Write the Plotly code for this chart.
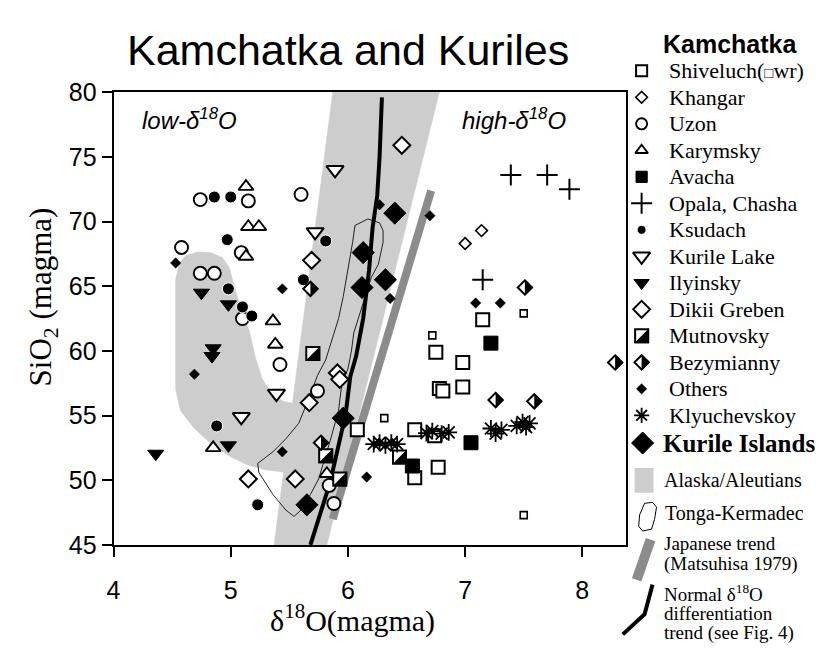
import plotly.graph_objects as go

W, H = 823, 649
PLOT_L, PLOT_R, PLOT_T, PLOT_B = 99.4, 616.5, 73.4, 546.5

X_RANGE = [4.0, 8.375]
Y_RANGE = [45.0, 80.0]
X_TICKS = [4, 5, 6, 7, 8]
Y_TICKS = [45, 50, 55, 60, 65, 70, 75, 80]

# ---------------- data ----------------
shiveluch_x = [7.15, 6.75, 6.98, 6.78, 6.81, 6.98, 6.08, 6.57, 6.74, 6.57, 6.77]
shiveluch_y = [62.4, 59.9, 59.1, 57.1, 56.9, 57.2, 53.9, 53.9, 53.45, 50.2, 51.0]
shiveluch_wr_x = [7.50, 6.72, 6.31, 7.50]
shiveluch_wr_y = [62.9, 61.2, 54.8, 47.3]
khangar_x = [7.00, 7.14]
khangar_y = [68.3, 69.3]
uzon_x = [4.74, 5.15, 5.60, 4.58, 5.09, 4.74, 4.86, 5.10, 5.42, 5.74, 5.84, 5.88]
uzon_y = [71.7, 71.6, 72.1, 68.0, 67.6, 66.0, 66.0, 62.5, 58.95, 56.9, 49.6, 48.2]
karymsky_x = [5.13, 5.15, 5.24, 5.13, 5.36, 5.38, 4.85, 5.82]
karymsky_y = [72.7, 69.6, 69.6, 67.3, 62.3, 60.5, 52.5, 50.5]
avacha_x = [7.22, 7.05, 6.55]
avacha_y = [60.6, 52.9, 51.1]
opala_x = [7.39, 7.70, 7.89, 7.15]
opala_y = [73.6, 73.6, 72.5, 65.5]
ksudach_x = [4.86, 5.00, 4.97, 4.98, 5.62, 5.81, 5.10, 5.18, 4.88, 5.23]
ksudach_y = [71.9, 71.9, 68.6, 64.8, 65.5, 68.5, 63.4, 62.7, 54.2, 48.1]
kurile_lake_x = [5.89, 5.72, 5.39, 5.09]
kurile_lake_y = [74.0, 69.2, 56.7, 54.9]
ilyinsky_x = [4.75, 4.98, 4.85, 4.84, 4.98, 4.36]
ilyinsky_y = [64.5, 63.6, 60.2, 59.6, 52.7, 52.05]
dikii_x = [5.69, 6.46, 5.91, 5.93, 5.67, 5.15, 5.55]
dikii_y = [67.0, 75.9, 58.3, 57.8, 56.0, 50.1, 50.1]
mutnovsky_x = [5.70, 5.81, 5.93, 6.44]
mutnovsky_y = [59.8, 51.9, 50.1, 51.8]
bezym_x = [5.68, 5.77, 7.26, 7.59, 8.28, 7.51]
bezym_y = [64.8, 52.9, 56.2, 56.1, 59.1, 64.9]
others_x = [4.53, 4.69, 5.44, 5.44, 6.27, 6.70, 6.36, 7.09, 7.30, 6.16]
others_y = [66.8, 58.2, 64.8, 52.2, 71.3, 70.45, 64.05, 63.7, 63.7, 50.25]
klyuch_x = [6.22, 6.27, 6.32, 6.37, 6.42, 6.67, 6.72, 6.80, 6.86,
            7.22, 7.26, 7.31, 7.44, 7.49, 7.55, 7.52]
klyuch_y = [52.8, 52.9, 52.7, 52.9, 52.8, 53.65, 53.8, 53.6, 53.7,
            54.0, 53.6, 53.9, 54.2, 54.5, 54.4, 54.1]
kurile_x = [6.40, 6.13, 6.12, 6.32, 5.96, 5.65]
kurile_y = [70.65, 67.6, 64.9, 65.5, 54.8, 48.1]

# fields / trends
wedge_x = [5.37, 5.82, 6.78, 5.87]
wedge_y = [45.0, 45.0, 80.0, 80.0]
hook_x = [4.72, 4.62, 4.56, 4.53, 4.53, 4.53, 4.57, 4.68, 4.82, 5.00, 5.15, 5.30, 5.48,
          5.56, 5.56, 5.45, 5.35, 5.27, 5.21, 5.16, 5.08, 5.02, 4.99, 4.93, 4.83]
hook_y = [67.65, 67.4, 66.8, 65.5, 60.0, 57.0, 55.4, 54.1, 52.9, 51.8, 51.15, 50.8, 50.6,
          52.0, 55.9, 56.1, 56.7, 57.8, 59.5, 61.5, 63.5, 65.3, 66.4, 67.2, 67.6]
tonga_x = [6.06, 6.17, 6.27, 6.30, 6.30, 6.26, 6.20, 6.12, 6.05, 6.03, 6.00, 5.95, 5.92,
           5.85, 5.79, 5.75, 5.68, 5.64, 5.60, 5.54, 5.47, 5.36, 5.24, 5.23, 5.36, 5.47,
           5.58, 5.67, 5.74, 5.81, 5.86, 5.92, 5.96, 6.00, 6.04]
tonga_y = [69.7, 70.2, 69.9, 69.3, 68.4, 66.7, 65.7, 63.5, 61.4, 60.0, 58.6, 57.6, 55.4,
           53.1, 51.4, 50.1, 48.9, 48.3, 47.7, 47.2, 47.7, 48.9, 50.6, 51.3, 52.2, 53.2,
           54.4, 56.4, 58.1, 59.3, 60.8, 62.5, 64.2, 66.2, 68.4]
japan_x = [5.87, 6.71]
japan_y = [47.0, 72.4]
normal_x = [5.68, 5.76, 5.85, 5.93, 5.98, 6.02, 6.07, 6.13, 6.18, 6.21, 6.25, 6.27, 6.29]
normal_y = [45.0, 47.2, 49.9, 53.1, 55.1, 58.0, 59.6, 62.5, 66.2, 69.5, 72.0, 75.0, 79.6]

# legend labels
legend_labels = ["Shiveluch(<span style='font-size:15px'><b>□</b></span>wr)", "Khangar", "Uzon",
                 "Karymsky", "Avacha", "Opala, Chasha", "Ksudach", "Kurile Lake", "Ilyinsky",
                 "Dikii Greben", "Mutnovsky", "Bezymianny", "Others", "Klyuchevskoy"]
japan_label_lines = ['Japanese trend', '(Matsuhisa 1979)']
normal_label_lines = ['Normal δ<sup>18</sup>O', 'differentiation', 'trend (see Fig. 4)']

# ---------------- styles ----------------
LIGHT = '#cdcdcd'
MID = '#8c8c8c'
SERIF = 'Liberation Serif, Times New Roman, serif'
SANS = 'Liberation Sans, Arial, sans-serif'

def st(symbol, size, fill='white', lc='black', lw=1.8):
    return dict(symbol=symbol, size=size, color=fill, line=dict(color=lc, width=lw))

S_SHIV = st('square', 13, lw=2)
S_WR = st('square', 7, lw=1.6)
S_KHAN = st('diamond', 9, lw=1.6)
S_UZON = st('circle', 13, lw=1.9)
S_KARY = st('triangle-up', 13, lw=1.9)
S_AVA = st('square', 14, fill='black', lw=1)
S_OPAL = st('cross-thin', 15, fill='black', lw=2)
S_KSU = st('circle', 12, fill='black', lc='white', lw=1)
S_KLAKE = st('triangle-down', 15, lw=2)
S_ILY = st('triangle-down', 14, fill='black', lw=1)
S_DIK = st('diamond', 13, lw=2)
S_MUT = st('square', 13, lw=2)
S_BEZ = st('diamond', 11, lw=2)
S_OTH = st('diamond', 8, fill='black', lw=0.5)
S_KLY = st('asterisk', 14, fill='black', lw=1.8)
S_KUR = st('diamond', 17, fill='black', lw=1)

MUT_PATH = 'M7.5,7.5 L7.5,-7.5 L-7.5,-7.5 Z'
BEZ_PATH = 'M0,8.2 L8.2,0 L0,-8.2 Z'

fig = go.Figure()
shapes = []
annotations = []

def add_region(xs, ys, color):
    fig.add_trace(go.Scatter(x=xs + [xs[0]], y=ys + [ys[0]], mode='lines', fill='toself',
                             fillcolor=color, line=dict(color=color, width=0.5),
                             hoverinfo='skip', showlegend=False))

def add_pts(xs, ys, s, xa='x', ya='y'):
    fig.add_trace(go.Scatter(x=xs, y=ys, mode='markers', marker=s, xaxis=xa, yaxis=ya,
                             hoverinfo='skip', showlegend=False, cliponaxis=False))

def add_half(xs, ys, path, xref='x', yref='y'):
    for x, y in zip(xs, ys):
        shapes.append(dict(type='path', xref=xref, yref=yref, xsizemode='pixel',
                           ysizemode='pixel', xanchor=x, yanchor=y, path=path,
                           fillcolor='black', line=dict(width=0), layer='above'))

def text(x, y, t, size, family=SERIF, anchor='left', angle=0):
    annotations.append(dict(x=x, y=y, xref='x2', yref='y2', text=t, showarrow=False,
                            xanchor=anchor, yanchor='middle', textangle=angle,
                            font=dict(family=family, size=size, color='black')))

# fields
add_region(wedge_x, wedge_y, LIGHT)
add_region(hook_x, hook_y, LIGHT)
# the grey field covers the top frame line
shapes.append(dict(type='line', xref='x', yref='y', x0=wedge_x[3], x1=wedge_x[2],
                   y0=wedge_y[3], y1=wedge_y[2], line=dict(color=LIGHT, width=3), layer='above'))
fig.add_trace(go.Scatter(x=japan_x, y=japan_y, mode='lines', line=dict(color=MID, width=8),
                         hoverinfo='skip', showlegend=False))
fig.add_trace(go.Scatter(x=tonga_x + [tonga_x[0]], y=tonga_y + [tonga_y[0]], mode='lines',
                         line=dict(color='#222222', width=1), hoverinfo='skip', showlegend=False))
fig.add_trace(go.Scatter(x=normal_x, y=normal_y, mode='lines', line=dict(color='black', width=4),
                         hoverinfo='skip', showlegend=False))

# data points
add_pts(others_x, others_y, S_OTH)
add_pts(shiveluch_x, shiveluch_y, S_SHIV)
add_pts(shiveluch_wr_x, shiveluch_wr_y, S_WR)
add_pts(khangar_x, khangar_y, S_KHAN)
add_pts(uzon_x, uzon_y, S_UZON)
add_pts(karymsky_x, karymsky_y, S_KARY)
add_pts(avacha_x, avacha_y, S_AVA)
add_pts(opala_x, opala_y, S_OPAL)
add_pts(ksudach_x, ksudach_y, S_KSU)
add_pts(kurile_lake_x, kurile_lake_y, S_KLAKE)
add_pts(ilyinsky_x, ilyinsky_y, S_ILY)
add_pts(dikii_x, dikii_y, S_DIK)
add_pts(mutnovsky_x, mutnovsky_y, S_MUT)
add_half(mutnovsky_x, mutnovsky_y, MUT_PATH)
add_pts(bezym_x, bezym_y, S_BEZ)
add_half(bezym_x, bezym_y, BEZ_PATH)
add_pts(klyuch_x, klyuch_y, S_KLY)
add_pts(kurile_x, kurile_y, S_KUR)

# ---------------- legend (pixel overlay axes x2/y2) ----------------
LEG_MX, LEG_TX, ROW0, ROWH = 632, 658, 51, 27.7
leg_styles = [S_SHIV, S_KHAN, S_UZON, S_KARY, S_AVA, S_OPAL, S_KSU, S_KLAKE, S_ILY,
              S_DIK, S_MUT, S_BEZ, S_OTH, S_KLY]
leg_scale = [0.85, 1.0, 0.85, 0.85, 0.8, 1.0, 0.75, 1.0, 0.95, 1.0, 1.0, 1.0, 1.0, 0.9]
for i, (lab, s, k) in enumerate(zip(legend_labels, leg_styles, leg_scale)):
    yy = ROW0 + ROWH * i
    s2 = dict(s)
    s2['size'] = s['size'] * k
    add_pts([LEG_MX], [yy], s2, 'x2', 'y2')
    if s is S_MUT:
        add_half([LEG_MX], [yy], MUT_PATH, 'x2', 'y2')
    if s is S_BEZ:
        add_half([LEG_MX], [yy], BEZ_PATH, 'x2', 'y2')
    text(LEG_TX, yy, lab, 22)

text(652, 23, '<b>Kamchatka</b>', 25, SANS)
add_pts([633], [440], S_KUR, 'x2', 'y2')
text(652, 440, '<b>Kurile Islands</b>', 25)
shapes.append(dict(type='rect', xref='x2', yref='y2', x0=625, x1=644, y0=466, y1=492,
                   fillcolor=LIGHT, line=dict(width=0)))
text(653, 479, 'Alaska/Aleutians', 20)
fig.add_trace(go.Scatter(x=[635, 643, 647, 645, 642, 633, 629, 630, 635],
                         y=[503, 502, 507, 520, 530, 532, 527, 515, 503], mode='lines',
                         line=dict(color='black', width=1), xaxis='x2', yaxis='y2',
                         hoverinfo='skip', showlegend=False))
text(654, 514, 'Tonga-Kermadec', 20)
fig.add_trace(go.Scatter(x=[641, 627], y=[541, 583], mode='lines', line=dict(color=MID, width=10),
                         xaxis='x2', yaxis='y2', hoverinfo='skip', showlegend=False))
for j, t in enumerate(japan_label_lines):
    text(653, 545 + 21 * j, t, 19)
fig.add_trace(go.Scatter(x=[643, 635, 613], y=[588, 619, 640], mode='lines',
                         line=dict(color='black', width=4), xaxis='x2', yaxis='y2',
                         hoverinfo='skip', showlegend=False))
for j, t in enumerate(normal_label_lines):
    text(653, 597 + 21 * j, t, 19)

# ---------------- titles and labels ----------------
text(336, 29, 'Kamchatka and Kuriles', 43, SANS, 'center')
text(126, 101, '<i>low-δ<sup>18</sup>O</i>', 24, SANS)
text(449, 101, '<i>high-δ<sup>18</sup>O</i>', 24, SANS)
text(340, 623, 'δ<sup>18</sup>O(magma)', 30, SERIF, 'center')
text(28, 287, 'SiO<sub>2</sub> (magma)', 31, SERIF, 'center', -90)

axis_common = dict(ticks='outside', ticklen=10, tickwidth=2, tickcolor='black', showline=True,
                   linecolor='black', linewidth=2, mirror=True, showgrid=False, zeroline=False,
                   fixedrange=True, tickfont=dict(family=SANS, size=25, color='black'))

fig.update_layout(
    width=W, height=H, margin=dict(l=0, r=0, t=0, b=0),
    paper_bgcolor='white', plot_bgcolor='rgba(0,0,0,0)', showlegend=False,
    xaxis=dict(domain=[PLOT_L / W, PLOT_R / W], range=X_RANGE, tickvals=X_TICKS,
               ticklabelstandoff=12, anchor='y', **axis_common),
    yaxis=dict(domain=[1 - PLOT_B / H, 1 - PLOT_T / H], range=Y_RANGE, tickvals=Y_TICKS,
               anchor='x', **axis_common),
    xaxis2=dict(domain=[0, 1], range=[0, W], visible=False, anchor='y2', fixedrange=True),
    yaxis2=dict(domain=[0, 1], range=[H, 0], visible=False, anchor='x2', fixedrange=True),
    shapes=shapes, annotations=annotations,
)

fig.write_html('out.html')
